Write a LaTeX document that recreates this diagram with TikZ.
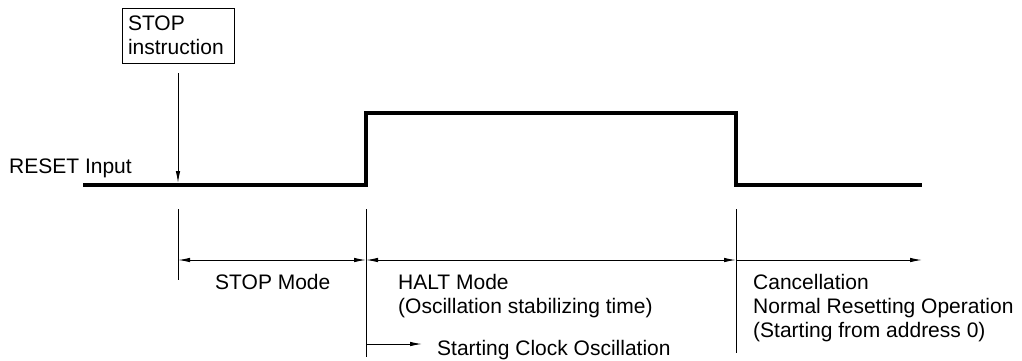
\documentclass[tikz,border=0pt]{standalone}
\usepackage{fontspec}
\setmainfont{Liberation Sans}
\usetikzlibrary{arrows.meta}
\begin{document}
\begin{tikzpicture}[x=1pt,y=-1pt,
  txt/.style={inner sep=0pt,font=\fontsize{21}{24}\selectfont,align=left},
  thin line/.style={line width=1pt},
  signal/.style={line width=3.2pt},
  tip/.style={-{Latex[length=12pt,width=4.5pt]}},
  dtip/.style={{Latex[length=12pt,width=4.5pt]}-{Latex[length=12pt,width=4.5pt]}}]
\useasboundingbox (0,0) rectangle (1022,360);
% STOP instruction box
\node[txt,draw,thin line,minimum width=112pt,minimum height=55pt,text width=100pt,inner sep=0pt] (box) at (178,35.5) {STOP\\instruction};
% signal
\coordinate (s0) at (83,185);
\coordinate (s1) at (366,185);
\coordinate (s2) at (366,113);
\coordinate (s3) at (736,113);
\coordinate (s4) at (736,185);
\coordinate (s5) at (922,185);
\draw[signal] (s0) -- (s1) -- (s2) -- (s3) -- (s4) -- (s5);
% STOP arrow
\coordinate (a0) at (178,73);
\coordinate (a1) at (178,183);
\draw[thin line,tip] (a0) -- (a1);
\node[txt,anchor=base west] (reset) at (9,173) {RESET Input};
% ticks
\coordinate (t1a) at (178,209); \coordinate (t1b) at (178,280);
\coordinate (t2a) at (366,209); \coordinate (t2b) at (366,357);
\coordinate (t3a) at (736,209); \coordinate (t3b) at (736,353);
\draw[thin line] (t1a) -- (t1b);
\draw[thin line] (t2a) -- (t2b);
\draw[thin line] (t3a) -- (t3b);
% dimension arrows
\coordinate (d1) at (178,260);
\coordinate (d2) at (366,260);
\coordinate (d3) at (736,260);
\coordinate (d4) at (922,260);
\draw[thin line,dtip] (d1) -- (d2);
\draw[thin line,dtip] (d2) -- (d3);
\draw[thin line,tip] (d3) -- (d4);
% clock oscillation arrow
\coordinate (c0) at (366,344);
\coordinate (c1) at (422,344);
\draw[thin line,tip] (c0) -- (c1);
% labels
\node[txt,anchor=base west] (stopmode) at (215,289) {STOP Mode};
\node[txt,anchor=north west] (halt) at (398,274) {HALT Mode\\(Oscillation stabilizing time)};
\node[txt,anchor=base west] (clock) at (437,355) {Starting Clock Oscillation};
\node[txt,anchor=north west] (cancel) at (753,274) {Cancellation\\Normal Resetting Operation\\(Starting from address 0)};
\end{tikzpicture}
\end{document}
